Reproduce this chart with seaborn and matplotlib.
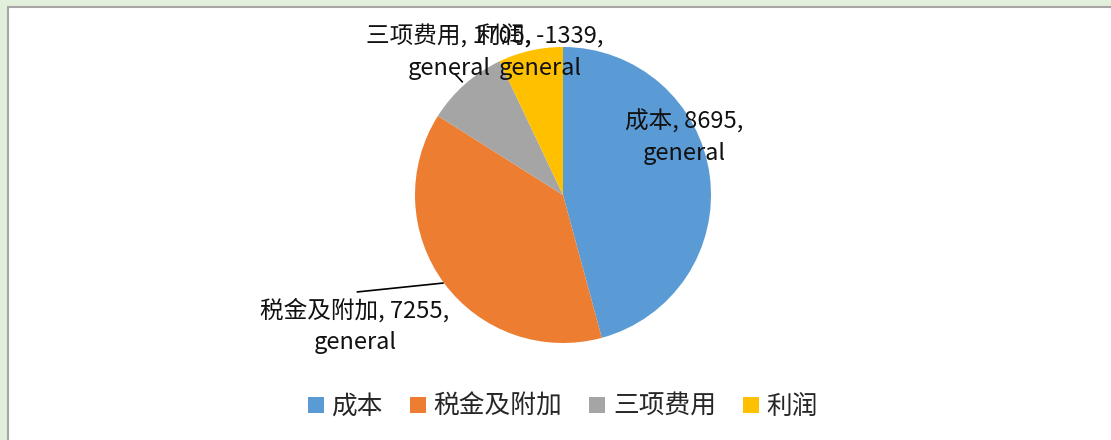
import matplotlib
matplotlib.use("Agg")
import matplotlib.pyplot as plt
from matplotlib.patches import Rectangle
import seaborn as sns
import numpy as np

categories = ["成本", "税金及附加", "三项费用", "利润"]
values = [8695, 7255, 1705, -1339]
label_suffix = "general"
colors = ["#5B9BD5", "#ED7D31", "#A5A5A5", "#FFC000"]

sns.set_theme(style="white")
plt.rcParams['font.family'] = ['Noto Sans CJK SC', 'DejaVu Sans']

W, H = 1111, 440
fig = plt.figure(figsize=(W / 100, H / 100), dpi=100, facecolor="#E2EFDA")
# white chart area with grey frame
frame = Rectangle((8 / W, -0.05), 1.1, 1 - 7 / H + 0.05, transform=fig.transFigure,
                  facecolor="white", edgecolor="#A6A6A6", linewidth=1.5, zorder=-10)
fig.patches.append(frame)

cx, cy, r = 563, 195, 148
ax = fig.add_axes([(cx - r) / W, (H - cy - r) / H, 2 * r / W, 2 * r / H])
ax.set_facecolor("none")
ax.set_zorder(2)

wedges, _ = ax.pie(np.abs(values), colors=colors, startangle=90, counterclock=False,
                   radius=1, wedgeprops=dict(linewidth=0))
ax.set_xlim(-1, 1)
ax.set_ylim(-1, 1)
ax.set_aspect("equal")
ax.axis("off")

label_pos = [(0.818, 0.392), (-1.405, -0.885), (-0.77, 0.966), (-0.155, 0.966)]
for cat, v, (x, y) in zip(categories, values, label_pos):
    ax.text(x, y, f"{cat}, {v},\n{label_suffix}", ha="center", va="center",
            fontsize=17, color="#111111", linespacing=1.45, clip_on=False, zorder=5)

# leader lines
ax.plot([-1.39, -0.81], [-0.655, -0.595], color="black", lw=1.2, clip_on=False)
ax.plot([-0.73, -0.68], [0.818, 0.764], color="black", lw=1.2, clip_on=False)

handles = [Rectangle((0, 0), 1, 1, facecolor=c, edgecolor="none") for c in colors]
leg = fig.legend(handles, categories, loc="center", bbox_to_anchor=(563 / W, 1 - 407 / H),
                 ncol=4, frameon=False, fontsize=18.5, handlelength=0.62, handleheight=0.62,
                 handletextpad=0.3, columnspacing=1.05, labelcolor="#262626")
leg.set_zorder(3)

fig.savefig("out.png", dpi=100, facecolor=fig.get_facecolor())
